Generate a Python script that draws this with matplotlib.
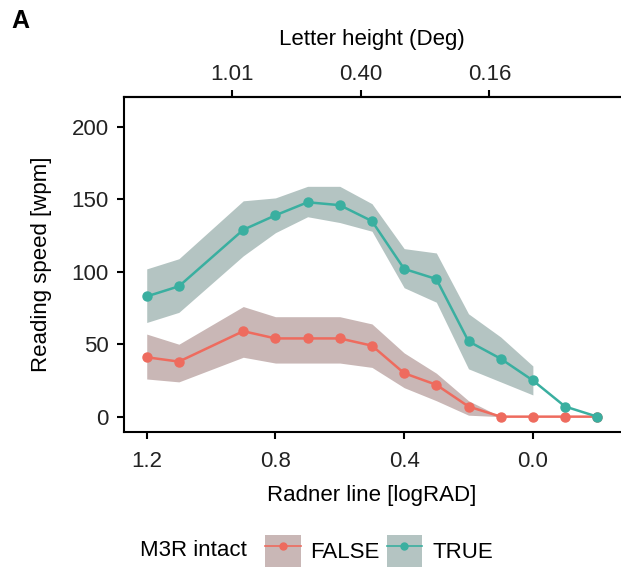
import numpy as np
import matplotlib.pyplot as plt
from matplotlib.patches import Patch
from matplotlib.lines import Line2D

plt.rcParams['font.family'] = ['Liberation Sans', 'DejaVu Sans']
plt.rcParams['font.size'] = 16

# data
radner = [1.2, 1.1, 0.9, 0.8, 0.7, 0.6, 0.5, 0.4, 0.3, 0.2, 0.1, 0.0, -0.1, -0.2]

true_mean = [83, 90, 129, 139, 148, 146, 135, 102, 95, 52, 40, 25, 7, 0]
true_lo = [65, 72, 111, 127, 138, 134, 128, 89, 79, 33, 24, 15, np.nan, np.nan]
true_hi = [102, 109, 149, 151, 159, 159, 147, 116, 113, 71, 55, 35, np.nan, np.nan]

false_mean = [41, 38, 59, 54, 54, 54, 49, 30, 22, 7, 0, 0, 0, 0]
false_lo = [26, 24, 41, 37, 37, 37, 34, 20, 11, 1, 0, 0, 0, 0]
false_hi = [57, 50, 76, 69, 69, 69, 64, 44, 30, 11, 0, 0, 0, 0]

top_pos = [0.935, 0.535, 0.135]
top_labels = ['1.01', '0.40', '0.16']

c_false, band_false = '#EE6B5E', '#C9B7B6'
c_true, band_true = '#3AAFA0', '#B4C4C2'

fig = plt.figure(figsize=(6.21, 5.72), dpi=100)
ax = fig.add_axes([0.2, 0.245, 0.798, 0.585])

for m, lo, hi, c, b in [(false_mean, false_lo, false_hi, c_false, band_false),
                        (true_mean, true_lo, true_hi, c_true, band_true)]:
    ax.fill_between(radner, lo, hi, color=b, lw=0, zorder=1)
    ax.plot(radner, m, color=c, lw=1.8, marker='o', ms=6.5, mec=c, zorder=3)

ax.set_xlim(1.27, -0.27)
ax.set_ylim(-10.5, 220.5)
ax.set_xticks([1.2, 0.8, 0.4, 0.0])
ax.set_xticklabels(['1.2', '0.8', '0.4', '0.0'])
ax.set_yticks([0, 50, 100, 150, 200])
ax.set_xlabel('Radner line [logRAD]', labelpad=9)
ax.set_ylabel('Reading speed [wpm]', labelpad=14)
ax.spines['right'].set_visible(False)
for s in ['left', 'bottom', 'top']:
    ax.spines[s].set_linewidth(1.5)
ax.tick_params(width=1.5, length=5, colors='black', labelcolor='#222222', labelsize=16)
ax.tick_params(axis='x', pad=9)
ax.tick_params(axis='y', pad=6)

sec = ax.secondary_xaxis('top')
sec.set_xticks(top_pos)
sec.set_xticklabels(top_labels)
sec.set_xlabel('Letter height (Deg)', labelpad=14)
sec.spines['top'].set_linewidth(1.5)
sec.tick_params(width=1.5, length=5, labelcolor='#222222', labelsize=16)

fig.text(0.018, 0.963, 'A', fontsize=18, fontweight='bold', ha='left', va='center')

# legend
fig.text(140 / 621, 1 - 551 / 572, 'M3R intact', ha='left', va='center', fontsize=16)
handles = [(Patch(facecolor=band_false, edgecolor='none'),
            Line2D([], [], color=c_false, lw=1.2, marker='o', ms=5)),
           (Patch(facecolor=band_true, edgecolor='none'),
            Line2D([], [], color=c_true, lw=1.2, marker='o', ms=5))]
fig.legend(handles, ['FALSE', 'TRUE'], ncol=2, frameon=False,
           loc='center left', bbox_to_anchor=(245 / 621, 1 - 551 / 572),
           handlelength=1.6, handleheight=1.9, handletextpad=0.45,
           columnspacing=0.3, fontsize=16)

fig.savefig('out.png', dpi=100)
